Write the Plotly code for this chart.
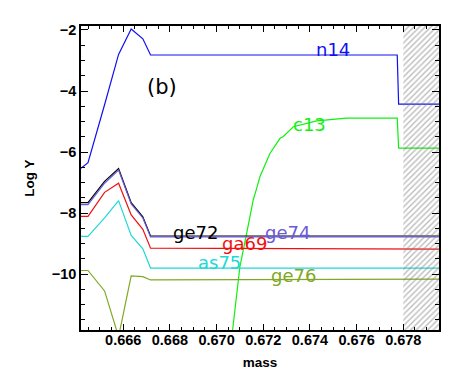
import plotly.graph_objects as go

# shared mass grid for most species
mass = [0.66419, 0.66449, 0.66520, 0.66580, 0.66634, 0.66684, 0.66717, 0.67774, 0.67780, 0.68000]
n14  = [-6.53, -6.35, -4.45, -2.80, -1.97, -2.29, -2.82, -2.82, -4.43, -4.43]
ge72 = [-7.66, -7.66, -6.96, -6.54, -7.66, -8.12, -8.75, -8.75, -8.75, -8.75]
ge74 = [-7.72, -7.72, -7.02, -6.59, -7.70, -8.16, -8.78, -8.78, -8.78, -8.78]
ga69 = [-8.11, -8.11, -7.32, -7.02, -8.06, -8.53, -9.15, -9.18, -9.18, -9.18]
as75 = [-8.76, -8.76, -8.16, -7.59, -8.73, -9.17, -9.80, -9.80, -9.80, -9.80]
ge76 = [-9.88, -9.88, -10.55, -12.05, -10.06, -10.08, -10.19, -10.16, -10.16, -10.16]

# c13 has its own sampling
mass_c13 = [0.67048, 0.67069, 0.67100, 0.67129, 0.67157, 0.67172, 0.67186, 0.67229,
            0.67272, 0.67286, 0.67329, 0.67429, 0.67557, 0.67774, 0.67780, 0.68000]
c13 = [-13.2, -11.76, -9.75, -8.66, -7.57, -7.18, -6.80, -6.04,
       -5.55, -5.49, -5.17, -4.98, -4.89, -4.89, -5.87, -5.87]

hatch_x = [0.6780, 0.6800]
y_range = [-11.83, -1.87]
x_range = [0.66419, 0.67953]

series = [
    ("n14", mass, n14, "#1010f0"),
    ("c13", mass_c13, c13, "#10f010"),
    ("ge76", mass, ge76, "#80a824"),
    ("as75", mass, as75, "#20d8d8"),
    ("ga69", mass, ga69, "#f01010"),
    ("ge72", mass, ge72, "#000000"),
    ("ge74", mass, ge74, "#6a5ad8"),
]

fig = go.Figure()
for name, xs, ys, col in series:
    fig.add_trace(go.Scatter(x=xs, y=ys, mode="lines", name=name,
                             line=dict(color=col, width=1.2), showlegend=False))

# hatched region
fig.add_trace(go.Scatter(
    x=[hatch_x[0], hatch_x[1], hatch_x[1], hatch_x[0], hatch_x[0]],
    y=[-14, -14, 0, 0, -14], mode="lines", fill="toself",
    line=dict(width=0, color="rgba(0,0,0,0)"),
    fillcolor="rgba(0,0,0,0)",
    fillpattern=dict(shape="/", size=4, solidity=0.35, fgcolor="#7a7a7a",
                     bgcolor="rgba(0,0,0,0)"),
    showlegend=False, hoverinfo="skip"))

labels = [
    ("(b)", 0.2254, 0.7993, "#000000", 21),
    ("n14", 0.7039, 0.9211, "#1010f0", 18),
    ("c13", 0.6369, 0.6776, "#10f010", 18),
    ("ge72", 0.3212, 0.3191, "#000000", 18),
    ("ga69", 0.4573, 0.2829, "#f01010", 18),
    ("ge74", 0.5782, 0.3191, "#6a5ad8", 18),
    ("as75", 0.3874, 0.2204, "#20d8d8", 18),
    ("ge76", 0.5941, 0.1793, "#80a824", 18),
]
for txt, lx, ly, col, fs in labels:
    fig.add_annotation(x=lx, y=ly, xref="paper", yref="paper", text=txt,
                       showarrow=False, xanchor="center", yanchor="middle",
                       font=dict(family="DejaVu Sans", size=fs, color=col))

axis_common = dict(showline=True, linecolor="black", linewidth=1.6, mirror="ticks",
                   ticks="inside", tickcolor="black", tickwidth=1.2, showgrid=False,
                   zeroline=False, automargin=False,
                   tickfont=dict(family="Liberation Sans", size=14.5, color="black", weight="bold"))

fig.update_xaxes(range=x_range, tick0=0.666, dtick=0.002, tickformat=".3f", ticklen=6,
                 ticklabelstandoff=-4,
                 minor=dict(ticks="inside", dtick=0.0005, ticklen=3, tickcolor="black", tickwidth=1),
                 title=dict(text="mass", standoff=10,
                            font=dict(family="Liberation Sans", size=13.5, color="black", weight="bold")),
                 **axis_common)
fig.update_yaxes(range=y_range, tick0=-2, dtick=2, ticklen=7,
                 minor=dict(ticks="inside", dtick=0.5, ticklen=4, tickcolor="black", tickwidth=1),
                 title=dict(text="Log Y", standoff=14,
                            font=dict(family="Liberation Sans", size=13.5, color="black", weight="bold")),
                 **axis_common)

# the page places the figure 8px in from the top-left corner; margins compensate
fig.update_layout(width=463, height=382, margin=dict(l=73, r=32, t=18, b=60),
                  paper_bgcolor="white", plot_bgcolor="white")
fig.write_html("out.html")
